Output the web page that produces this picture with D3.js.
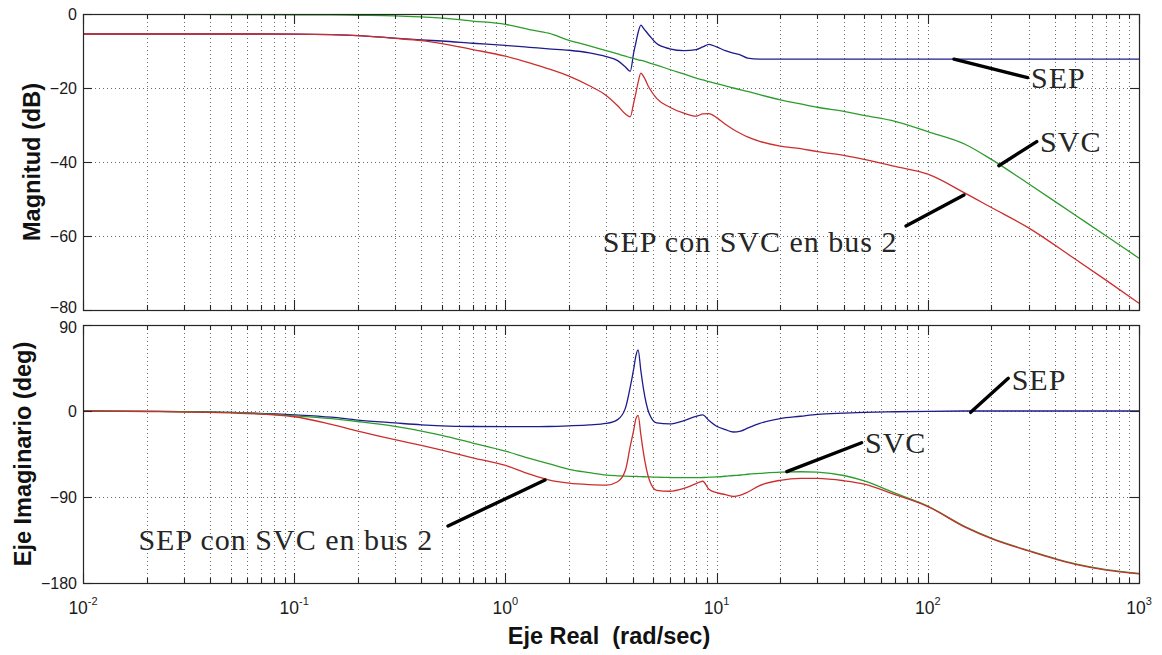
<!DOCTYPE html>
<html>
<head>
<meta charset="utf-8">
<script src="https://cdn.jsdelivr.net/npm/d3@7/dist/d3.min.js"></script>
<style>
  html, body { margin: 0; padding: 0; background: #fff; }
  svg { display: block; }
</style>
</head>
<body>
<svg id="chart" width="1162" height="655"></svg>
<script>
// Frequency grid (rad/s) shared by all traces
const freq = [0.01, 0.02, 0.05, 0.1, 0.15, 0.2, 0.3, 0.4, 0.5, 0.7,
  1, 1.3, 1.6, 2, 2.5, 3, 3.4, 3.7, 3.9, 4.05,
  4.15, 4.25, 4.38, 4.5, 4.8, 5.2, 6, 7, 8, 8.6,
  9.2, 10, 11, 12, 13, 14, 16, 20, 25, 30,
  40, 50, 70, 100, 150, 200, 300, 500, 700, 1000];

// Magnitude (dB)
const magSEP = [-5.4, -5.4, -5.4, -5.45, -5.6, -5.85, -6.5, -7.0, -7.3, -7.9,
  -8.5, -9.0, -9.4, -9.8, -10.5, -11.5, -12.6, -14.3, -15.5, -10.5,
  -7.7, -5.0, -3.0, -3.8, -5.8, -8.0, -9.4, -9.9, -9.6, -8.9,
  -8.2, -8.9, -9.9, -10.6, -11.1, -11.9, -12.2, -12.2, -12.2, -12.2,
  -12.2, -12.2, -12.2, -12.2, -12.2, -12.2, -12.2, -12.2, -12.2, -12.2];
const magSVC = [0, 0, -0.15, -0.2, -0.25, -0.35, -0.5, -0.8, -1.1, -1.9,
  -2.8, -4.2, -5.2, -7.1, -8.6, -9.9, -10.8, -11.4, -11.8, -12.0,
  -12.2, -12.4, -12.55, -12.7, -13.2, -13.8, -15.0, -16.2, -17.3, -17.8,
  -18.3, -18.8, -19.4, -20.0, -20.5, -20.9, -21.8, -23.2, -24.3, -25.2,
  -26.3, -27.4, -29.0, -31.8, -35.2, -39.3, -45.9, -54.4, -60.0, -66.0];
const magBus2 = [-5.4, -5.4, -5.4, -5.45, -5.6, -5.85, -6.6, -7.2, -8.0, -9.6,
  -11.4, -13.2, -14.8, -16.8, -19.4, -22.0, -24.8, -27.0, -27.8, -24.0,
  -21.3, -18.5, -16.0, -16.8, -20.0, -22.8, -25.2, -26.8, -27.6, -27.0,
  -26.9, -28.0, -29.8, -31.2, -32.3, -33.2, -34.4, -35.7, -36.4, -37.2,
  -38.2, -39.3, -41.2, -43.3, -48.4, -52.3, -57.8, -66.3, -72.0, -78.2];

// Phase (deg)
const phSEP = [0, -0.3, -1.5, -4, -6.5, -9.5, -12.5, -14.5, -15.5, -16.2,
  -16.4, -16.4, -16.2, -15.5, -14.5, -13, -9, 3, 25, 44,
  58, 64, 42, 24, -3, -12.5, -13.5, -10, -5.5, -4,
  -10, -16, -19.5, -22, -21, -18, -13, -8, -5.5, -3.5,
  -2.2, -1.5, -0.8, -0.3, 0, 0, 0, 0, 0, 0];
const phSVC = [0, -0.3, -1.5, -5, -8, -11, -16, -21, -25.5, -33.5,
  -42, -49.5, -55, -61, -64.5, -67, -67.8, -68.2, -68.4, -68.5,
  -68.5, -68.6, -68.7, -68.8, -69, -69.3, -69.6, -69.8, -69.8, -69.6,
  -69.3, -69, -68.3, -67.5, -67, -66.2, -65.3, -64, -63.6, -64,
  -67.5, -73.2, -86, -99.5, -121, -133, -146, -160, -166, -170];
const phBus2 = [0, -0.5, -2, -6, -14, -21, -30, -36, -41, -49,
  -57, -66, -72, -75.5, -77, -77.5, -74, -62, -37, -20,
  -8, -4.5, -25, -43, -72, -83, -84, -81, -76, -73.5,
  -82, -85.5, -87.5, -89.5, -88, -85, -78, -72.5, -70.5, -70.6,
  -73, -76.5, -87.5, -100, -121.5, -133.5, -146.5, -160.5, -166.5, -170.5];

// Axis ticks
const magTicks = [0, -20, -40, -60, -80];
const phTicks = [90, 0, -90, -180];
const decades = [-2, -1, 0, 1, 2, 3];

// Annotation labels with leader lines, in data units [rad/s, value]
const magNotes = [
  { text: "SEP", at: [308, -20], tail: [297, -17.2], tip: [133, -12.2] },
  { text: "SVC", at: [340, -37.2], tail: [328, -34.5], tip: [217, -41] },
  { text: "SEP con SVC en bus 2", at: [2.89, -64.4], tail: [78.8, -57.3], tip: [148.4, -48.9] }
];
const phNotes = [
  { text: "SEP", at: [249.5, 22], tail: [240.5, 34.2], tip: [159.6, -1.4] },
  { text: "SVC", at: [50.4, -44], tail: [48.6, -33.2], tip: [21.5, -63.5] },
  { text: "SEP con SVC en bus 2", at: [0.0183, -145.5], tail: [0.535, -120.3], tip: [1.54, -72.2] }
];

const colors = { sep: "#1c1c8c", svc: "#2c9c2c", bus2: "#cc2e2e" };

const svg = d3.select("#chart");
const left = 83, right = 1139;

const x = d3.scaleLog().domain([0.01, 1000]).range([left, right]);
const yMag = d3.scaleLinear().domain([0, -80]).range([14, 310]);
const yPh = d3.scaleLinear().domain([90, -180]).range([325, 583]);

const minorTicks = x.ticks().filter(v => Math.abs(Math.log10(v) - Math.round(Math.log10(v))) > 1e-9);
const majorTicks = decades.map(d => Math.pow(10, d));

// labelShift nudges the outermost tick labels where the two panels meet
function panel(id, y, yTicks, series, notes, labelShift) {
  const [y0, y1] = y.range();
  const g = svg.append("g");

  g.append("clipPath").attr("id", id)
    .append("rect").attr("x", left).attr("y", y0).attr("width", right - left).attr("height", y1 - y0);

  // dotted grid
  const grid = g.append("g").attr("stroke", "#3a3a3a").attr("stroke-width", 1)
    .attr("stroke-dasharray", "1,3").attr("opacity", 0.75);
  grid.selectAll("line.gx").data(minorTicks.concat(majorTicks)).join("line")
    .attr("x1", d => Math.round(x(d)) + 0.5).attr("x2", d => Math.round(x(d)) + 0.5)
    .attr("y1", y0).attr("y2", y1);
  grid.selectAll("line.gy").data(yTicks).join("line")
    .attr("x1", left).attr("x2", right)
    .attr("y1", d => Math.round(y(d)) + 0.5).attr("y2", d => Math.round(y(d)) + 0.5);

  // traces
  const line = d3.line().x((d, i) => x(freq[i])).y(d => y(d)).curve(d3.curveMonotoneX);
  const traces = g.append("g").attr("clip-path", `url(#${id})`).attr("fill", "none").attr("stroke-width", 1.3);
  series.forEach(s => {
    traces.append("path").datum(s.values).attr("stroke", s.color).attr("d", line);
  });

  // frame
  g.append("rect").attr("x", left + 0.5).attr("y", y0 + 0.5)
    .attr("width", right - left).attr("height", y1 - y0)
    .attr("fill", "none").attr("stroke", "#262626").attr("stroke-width", 1.2);

  // inward ticks on all four sides
  const ticks = g.append("g").attr("stroke", "#262626").attr("stroke-width", 1.1);
  const xt = majorTicks.map(v => ({ v, len: 10 })).concat(minorTicks.map(v => ({ v, len: 5 })));
  ticks.selectAll("line.tb").data(xt).join("line")
    .attr("x1", d => Math.round(x(d.v)) + 0.5).attr("x2", d => Math.round(x(d.v)) + 0.5)
    .attr("y1", y1).attr("y2", d => y1 - d.len);
  ticks.selectAll("line.tt").data(xt).join("line")
    .attr("x1", d => Math.round(x(d.v)) + 0.5).attr("x2", d => Math.round(x(d.v)) + 0.5)
    .attr("y1", y0).attr("y2", d => y0 + d.len);
  ticks.selectAll("line.tr").data(yTicks).join("line")
    .attr("x1", right).attr("x2", right - 9)
    .attr("y1", d => Math.round(y(d)) + 0.5).attr("y2", d => Math.round(y(d)) + 0.5);

  // left axis with labels
  const ax = g.append("g").attr("transform", `translate(${left},0)`)
    .call(d3.axisLeft(y).tickValues(yTicks).tickSizeInner(-9).tickSizeOuter(0).tickPadding(6));
  ax.select(".domain").remove();
  ax.selectAll(".tick line").attr("stroke", "#262626").attr("stroke-width", 1.1);
  ax.selectAll(".tick text").attr("font-family", "'Liberation Sans', Arial, sans-serif")
    .attr("font-size", 16).attr("fill", "#1a1a1a")
    .attr("y", d => labelShift[d] || 0);

  // annotations
  const ann = g.append("g");
  notes.forEach(n => {
    ann.append("line")
      .attr("x1", x(n.tail[0])).attr("y1", y(n.tail[1]))
      .attr("x2", x(n.tip[0])).attr("y2", y(n.tip[1]))
      .attr("stroke", "#000").attr("stroke-width", 3.4).attr("stroke-linecap", "round");
    ann.append("text")
      .attr("x", x(n.at[0])).attr("y", y(n.at[1]))
      .attr("font-family", "'Liberation Serif', 'Times New Roman', serif")
      .attr("font-size", 30).attr("letter-spacing", 1).attr("fill", "#262626")
      .text(n.text);
  });
  return g;
}

panel("clipMag", yMag, magTicks, [
  { values: magSEP, color: colors.sep },
  { values: magSVC, color: colors.svc },
  { values: magBus2, color: colors.bus2 }
], magNotes, { "-80": -3 });

panel("clipPh", yPh, phTicks, [
  { values: phSEP, color: colors.sep },
  { values: phSVC, color: colors.svc },
  { values: phBus2, color: colors.bus2 }
], phNotes, { "90": 2 });

// decade labels under the lower panel
const xl = svg.append("g").attr("font-family", "'Liberation Sans', Arial, sans-serif").attr("fill", "#1a1a1a");
decades.forEach(d => {
  const t = xl.append("text").attr("x", x(Math.pow(10, d))).attr("y", 614)
    .attr("text-anchor", "middle").attr("font-size", 17.5);
  t.append("tspan").text("10");
  t.append("tspan").attr("dy", -9).attr("font-size", 11).text(String(d));
});

// axis titles
const titleFont = "'Liberation Sans', Arial, sans-serif";
svg.append("text").attr("transform", "translate(32,162) rotate(-90)")
  .attr("text-anchor", "middle").attr("dominant-baseline", "central")
  .attr("font-family", titleFont).attr("font-weight", "bold").attr("font-size", 23.5).attr("fill", "#111")
  .text("Magnitud (dB)");
svg.append("text").attr("transform", "translate(23,454) rotate(-90)")
  .attr("text-anchor", "middle").attr("dominant-baseline", "central")
  .attr("font-family", titleFont).attr("font-weight", "bold").attr("font-size", 23.5).attr("fill", "#111")
  .text("Eje Imaginario (deg)");
svg.append("text").attr("x", 609).attr("y", 636)
  .attr("text-anchor", "middle").attr("dominant-baseline", "central")
  .attr("font-family", titleFont).attr("font-weight", "bold").attr("font-size", 23.5).attr("fill", "#111")
  .style("white-space", "pre")
  .text("Eje Real  (rad/sec)");
</script>
</body>
</html>
